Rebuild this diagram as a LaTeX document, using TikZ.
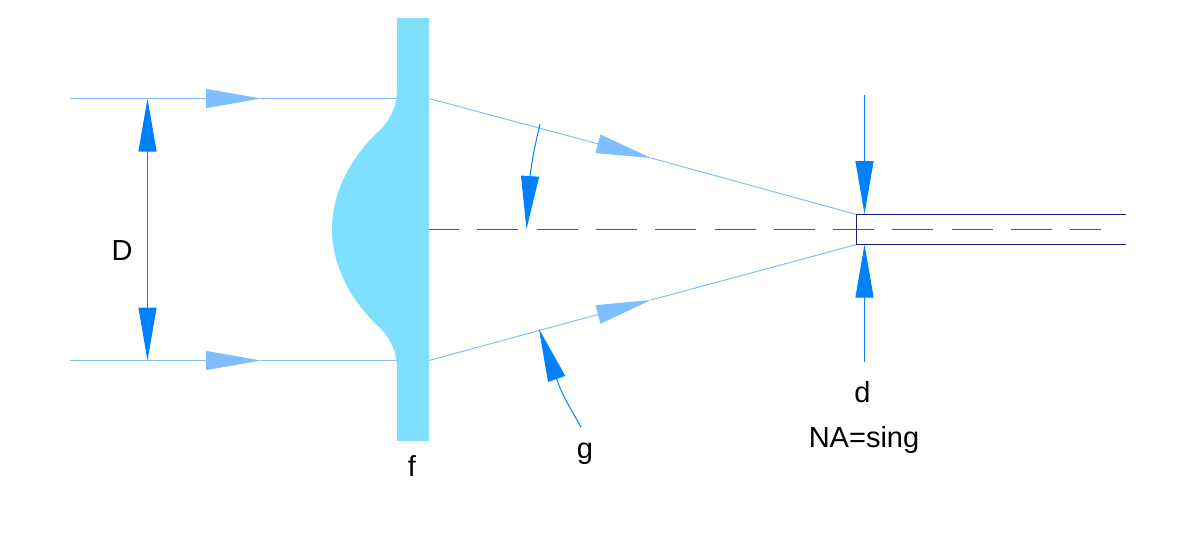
\documentclass[tikz,border=0pt]{standalone}
\usepackage{fontspec}
\setmainfont{Liberation Sans}
\usetikzlibrary{arrows.meta}

\definecolor{lenscolor}{HTML}{7FDFFF}
\definecolor{raycolor}{HTML}{80BFFF}
\definecolor{dimcolor}{HTML}{007FFF}
\definecolor{fibercolor}{HTML}{1A1A7F}
\definecolor{axiscolor}{HTML}{F01818}

\tikzset{
    ray/.style={raycolor, line width=1pt},
    rayhead/.style={ray, -{Triangle[length=55pt, width=19pt]}},
    dim/.style={dimcolor, line width=1pt},
    dimhead/.style={dim, -{Triangle[length=53pt, width=18pt]}},
    dimboth/.style={dim, {Triangle[length=53pt, width=18pt]}-{Triangle[length=53pt, width=18pt]}},
    axis/.style={color=axiscolor, line width=1.4pt, dash pattern=on 41pt off 18.3pt, dash phase=11pt},
    caption/.style={inner sep=0pt, anchor=base, font=\fontsize{29}{29}\selectfont},
}

\begin{document}
\begin{tikzpicture}[x=1pt, y=-1pt]
        \useasboundingbox (0, 0) rectangle (1191, 547);

        \coordinate (upperstart) at (70, 98.5);
        \coordinate (upperhead) at (261, 98.5);
        \coordinate (upperlens) at (397, 98.5);
        \coordinate (upperexit) at (429, 98.5);
        \coordinate (upperconv) at (651, 158);
        \coordinate (fibertop) at (856.5, 214.5);
        \coordinate (lowerstart) at (70, 360.5);
        \coordinate (lowerhead) at (261, 360.5);
        \coordinate (lowerlens) at (397, 360.5);
        \coordinate (lowerexit) at (429, 360.5);
        \coordinate (lowerconv) at (651, 300);
        \coordinate (fiberbottom) at (856.5, 244.5);
        \coordinate (upperbase) at (530, 177);
        \coordinate (lowerbase) at (557, 380);

        \draw [rayhead] (upperstart) -- (upperhead); % upper ray, in
        \draw [ray] (upperhead) -- (upperlens);
        \draw [rayhead] (upperexit) -- (upperconv); % upper ray, out
        \draw [ray] (upperconv) -- (fibertop);
        \draw [rayhead] (lowerstart) -- (lowerhead); % lower ray, in
        \draw [ray] (lowerhead) -- (lowerlens);
        \draw [rayhead] (lowerexit) -- (lowerconv); % lower ray, out
        \draw [ray] (lowerconv) -- (fiberbottom);

        % lens on its plate
        \fill [lenscolor] (397, 18) -- (397, 90)
            .. controls (397, 108) and (389, 122) .. (377, 133)
            .. controls (365, 144) and (332, 180) .. (332, 229)
            .. controls (332, 278) and (365, 314) .. (377, 325)
            .. controls (389, 336) and (397, 350) .. (397, 368)
            -- (397, 441) -- (429, 441) -- (429, 18) -- cycle;

        \draw [axis] (429, 229.5) -- (1101, 229.5); % axis
        \draw [fibercolor, line width=1pt] (1126, 214.5) -- (fibertop) -- (fiberbottom) -- (1126, 244.5); % fiber

        \draw [dimboth] (147.5, 98.5) -- (147.5, 360.5); % D arrow
        \draw [dimhead] (864.5, 95) -- (864.5, 214); % d arrow, top
        \draw [dimhead] (864.5, 362) -- (864.5, 244.5); % d arrow, bottom
        \draw [dim] (540, 124) .. controls (535, 145) and (531, 165) .. (upperbase); % upper angle
        \draw [dimhead] (upperbase) -- (526.5, 229);
        \draw [dim] (581, 427) .. controls (573, 413) and (562, 395) .. (lowerbase); % lower angle
        \draw [dimhead] (lowerbase) -- (539, 329);

        \node [caption] (labelD) at (122, 260) {D};
        \node [caption] (labelf) at (412, 476) {f};
        \node [caption] (labelg) at (585, 458) {g};
        \node [caption] (labeld) at (862.5, 402) {d};
        \node [caption] (labelNA) at (864, 447) {NA=sing};
    \end{tikzpicture}
\end{document}
